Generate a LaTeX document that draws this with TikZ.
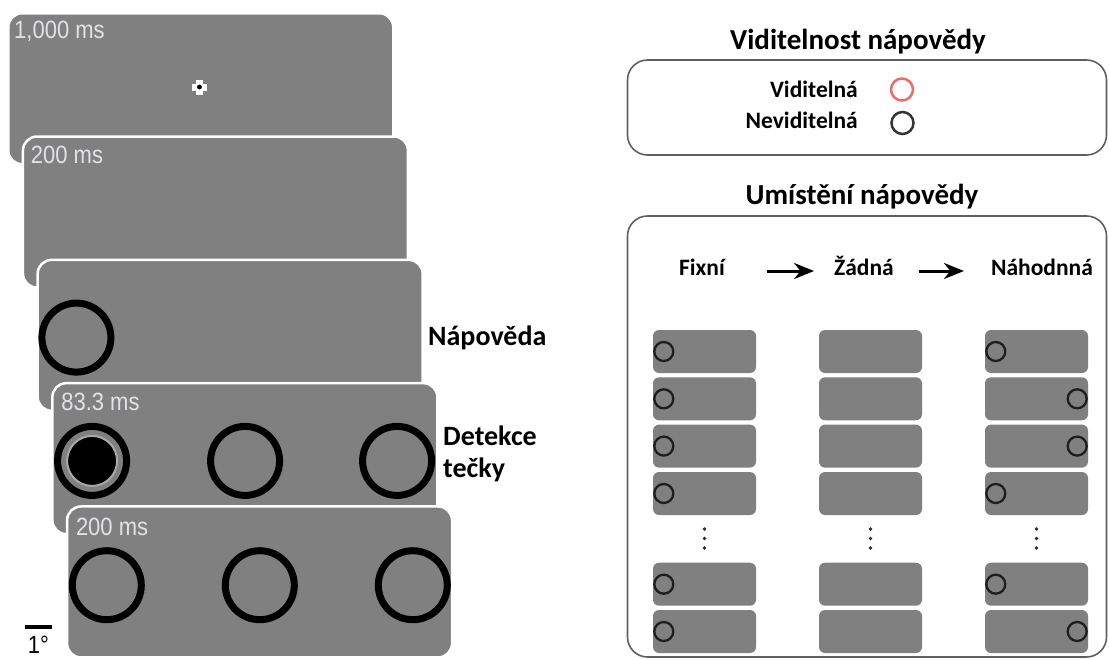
\documentclass[tikz,border=0pt]{standalone}
\usepackage{fontspec}
\setmainfont{Carlito}
\newfontfamily\msfont[FakeStretch=0.88]{Liberation Sans}
\usetikzlibrary{arrows.meta, calc, positioning}
\definecolor{panelgray}{HTML}{808080}
\definecolor{mstext}{HTML}{E2E2E6}
\definecolor{boxline}{HTML}{5F5F5F}
\definecolor{cuered}{HTML}{F06A6A}
\definecolor{ringdark}{HTML}{1E1E1E}
\definecolor{ringlight}{HTML}{A8A8A8}
\definecolor{dotgray}{HTML}{2A2A2A}

\begin{document}
\begin{tikzpicture}[
  x=1pt, y=-1pt,
  panel/.style = {fill=panelgray, draw=white, line width=2.5pt, rounded corners=14pt, minimum width=385pt, minimum height=151pt, inner sep=0pt, anchor=north west},
  ms/.style    = {font=\msfont\fontsize{25}{28}\selectfont, text=mstext, anchor=west, inner sep=0pt},
  ring/.style  = {circle, draw=black, line width=7pt, minimum size=69pt, inner sep=0pt},
  disk/.style  = {circle, fill=black, draw=ringlight, line width=2pt, minimum size=50pt, inner sep=0pt},
  lbl/.style   = {font=\bfseries\fontsize{28}{32}\selectfont, align=left, anchor=west, inner sep=0pt},
  ttl/.style   = {font=\bfseries\fontsize{29}{32}\selectfont, inner sep=0pt},
  lgd/.style   = {font=\bfseries\fontsize{23.5}{28}\selectfont, anchor=base east, inner sep=0pt},
  hdr/.style   = {font=\bfseries\fontsize{23.5}{28}\selectfont, anchor=base, inner sep=0pt},
  lbox/.style  = {draw=boxline, line width=1.6pt, rounded corners=20pt, minimum width=479pt, inner sep=0pt},
  cue/.style   = {circle, line width=2.5pt, minimum size=22pt, inner sep=0pt},
  sbox/.style  = {fill=panelgray, rounded corners=6pt, minimum width=103pt, minimum height=43pt, inner sep=0pt},
  sring/.style = {circle, draw=ringdark, line width=2.3pt, minimum size=19pt, inner sep=0pt},
  arr/.style   = {-{Stealth[length=20pt,width=16pt]}, line width=3pt},
]
\useasboundingbox (0,0) rectangle (1109,659);
%%--- Trial sequence: stacked screens ---
\node[panel] (p1) at (7,12) {};
\node[panel] (p2) at (21.7,135.3) {};
\node[panel] (p3) at (36.4,258.6) {};
\node[panel] (p4) at (51.1,381.9) {};
\node[panel] (p5) at (65.8,505.2) {};
\node[ms] (m1) at ($(p1.north west)+(7,19)$)  {1,000 ms};
\node[ms] (m2) at ($(p2.north west)+(9,20)$)  {200 ms};
\node[ms] (m4) at ($(p4.north west)+(10,20)$) {83.3 ms};
\node[ms] (m5) at ($(p5.north west)+(10,22)$) {200 ms};
%% fixation mark
\coordinate (fx) at ($(p1.north west)+(192.5,75)$);
\fill[white] ($(fx)+(-7.5,-3.5)$) rectangle ($(fx)+(7.5,3.5)$);
\fill[white] ($(fx)+(-3.5,-7.5)$) rectangle ($(fx)+(3.5,7.5)$);
\fill[black] (fx) circle (2.4pt);
%% placeholders
\node[ring] (c3a) at ($(p3.north west)+(40,79)$) {};
\node[ring] (c4a) at ($(p4.north west)+(41,79)$) {};
\node[ring] (c4b) at ($(p4.north west)+(194,79)$) {};
\node[ring] (c4c) at ($(p4.north west)+(346,79)$) {};
\node[disk] (d4a) at (c4a) {};
\node[ring] (c5a) at ($(p5.north west)+(41,80)$) {};
\node[ring] (c5b) at ($(p5.north west)+(194,80)$) {};
\node[ring] (c5c) at ($(p5.north west)+(347,80)$) {};
%% side labels
\node[lbl] (tcue) at (428,338) {Nápověda};
\node[lbl] (tdet) at (443,454) {Detekce\\tečky};
%% scale bar
\coordinate (sb1) at (25,627);
\coordinate (sb2) at (52,627);
\draw[line width=4.5pt] (sb1) -- (sb2);
\node[ms, text=black, anchor=center] (deg) at (38.5,645) {1°};
%%--- Cue visibility ---
\node[ttl] (tvis) at (858,42) {Viditelnost nápovědy};
\node[lbox, minimum height=95pt] (vis) at (867,107.5) {};
\node[lgd] (lv) at (858,97)  {Viditelná};
\node[lgd] (ln) at (858,128) {Neviditelná};
\node[cue, draw=cuered]       (cv) at (902,89.5) {};
\node[cue, draw=ringdark!90]  (cn) at (902.5,123) {};
%%--- Cue location ---
\node[ttl] (tloc) at (862,197) {Umístění nápovědy};
\node[lbox, minimum height=441pt] (loc) at (867,436.5) {};
\node[hdr] (hfix)  at (702,275)  {Fixní};
\node[hdr] (hzad)  at (864,275)  {Žádná};
\node[hdr] (hrand) at (1042,275) {Náhodnná};
\draw[arr] ($(hfix.base east)+(42,-4)$) -- ($(hzad.base west)+(-20,-4)$);
\draw[arr] ($(hzad.base east)+(25,-4)$) -- ($(hrand.base west)+(-27,-4)$);
%% block columns: fixed / none / random
\foreach \y [count=\r] in {351.5,398.8,446.1,493.5,584.2,631.5} {
  \node[sbox] (sa\r) at (704.5,\y)  {};
  \node[sbox] (sb\r) at (870.5,\y)  {};
  \node[sbox] (sc\r) at (1036.5,\y) {};
  \node[sring] (ra\r) at ($(sa\r.west)+(11,0)$) {};
}
\foreach \r/\side/\dx in {1/west/11, 2/east/-11, 3/east/-11, 4/west/11, 5/west/11, 6/east/-11}
  \node[sring] (rc\r) at ($(sc\r.\side)+(\dx,0)$) {};
\foreach \x in {704.5,870.5,1036.5}
  \foreach \y in {529,538.5,548}
    \fill[dotgray] (\x,\y) circle (1.8pt);
\end{tikzpicture}
\end{document}
